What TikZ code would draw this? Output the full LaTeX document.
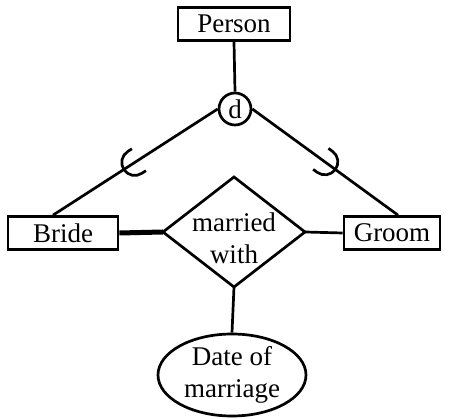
\documentclass[tikz,border=0pt]{standalone}
\usepackage{fontspec}
\setmainfont{Liberation Serif}
\usetikzlibrary{shapes.geometric,decorations.markings}
\begin{document}
\begin{tikzpicture}[x=1pt,y=1pt,
  every node/.style={font=\fontsize{27}{32}\selectfont},
  line/.style={line width=2.7pt},
  entity/.style={draw, line width=2.7pt, inner sep=0pt, minimum height=33pt},
  attr/.style={draw, ellipse, line width=2.7pt, inner sep=0pt, align=center},
  disj/.style={draw, circle, line width=2.7pt, inner sep=0pt, minimum size=32pt},
  total/.style={line width=5pt},
  subsetmark/.style={postaction={decorate}, decoration={markings,
    mark=at position 0.57 with {\draw[line width=2.7pt]
      (-18pt,13pt) -- (-13pt,13pt) arc (90:-90:13pt) -- (-18pt,-13pt);}}}
]
\useasboundingbox (0,0) rectangle (449,419);

% entities, relationship and attribute
\node[entity, minimum width=112pt] (person) at (234,395) {Person};
\node[disj] (d) at (235,310) {d};
\node[entity, minimum width=110pt] (bride) at (63,186) {Bride};
\node[entity, minimum width=96pt] (groom) at (392,186) {Groom};

\coordinate (rl) at (163,187);
\coordinate (rr) at (305,187);
\coordinate (rt) at (234,242);
\coordinate (rb) at (234,132);
\draw[line, line join=miter] (rl) -- (rt) -- (rr) -- (rb) -- cycle;
\node[align=center] (rel) at (234,181) {married\\with};

\node[attr, minimum width=148pt, minimum height=82pt] (date) at (232,44) {Date of\\marriage};

% connectors
\draw[line] (person.south) -- (d.north);
\draw[line, subsetmark] (d.west) -- ([xshift=-10pt]bride.north);
\draw[line, subsetmark] (d.east) -- ([xshift=6pt]groom.north);
\draw[total] (bride.east) -- (rl);
\draw[line] (rr) -- (groom.west);
\draw[line] (rb) -- (date.north);
\end{tikzpicture}
\end{document}
